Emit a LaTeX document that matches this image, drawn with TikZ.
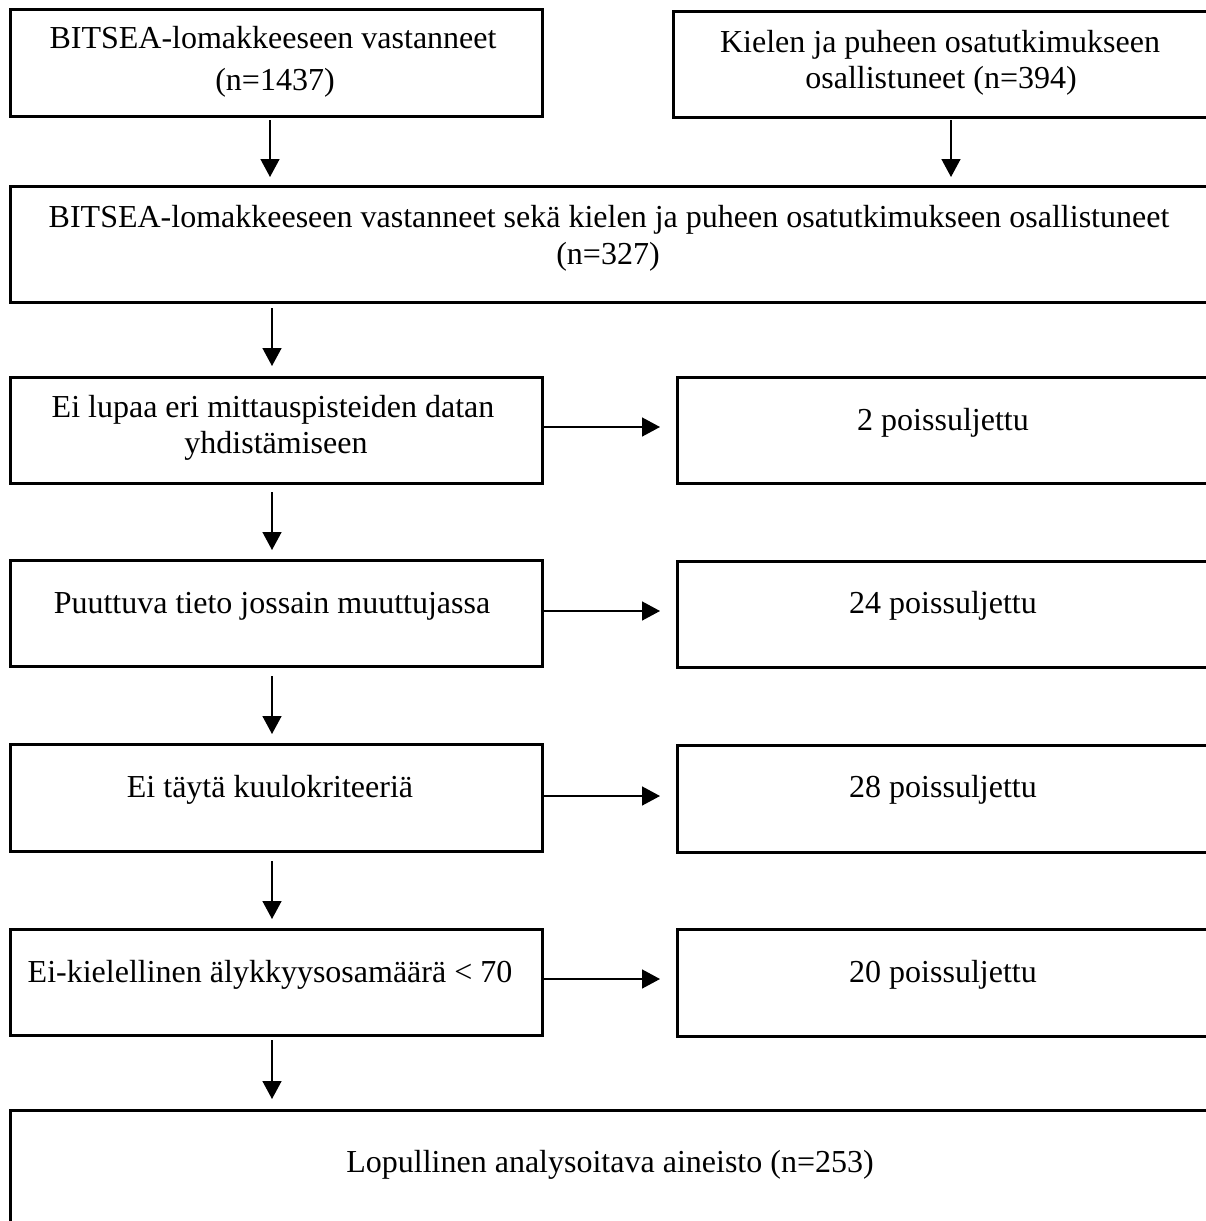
\documentclass[tikz,border=0pt]{standalone}
\usepackage{fontspec}
\setmainfont{Liberation Serif}
\usetikzlibrary{arrows.meta}
\tikzset{
  box/.style={draw, line width=3pt, inner sep=0pt, outer sep=0pt, rectangle},
  txt/.style={anchor=base, inner sep=0pt, font=\fontsize{32}{38}\selectfont},
  arr/.style={line width=1.5pt, -{Triangle[width=19pt,length=18pt]}}
}
\begin{document}
\begin{tikzpicture}[x=1pt,y=-1pt]
\useasboundingbox (0,0) rectangle (1206,1221);
\clip (0,0) rectangle (1206,1221);
\fill[white] (0,0) rectangle (1206,1221);
% boxes
\node[box, minimum width=532pt, minimum height=107pt] (A) at (276,62.5) {};
\node[box, minimum width=539pt, minimum height=106pt] (B) at (942.5,64) {};
\node[box, minimum width=1202pt, minimum height=116pt] (C) at (611,244) {};
\node[box, minimum width=532pt, minimum height=106pt] (D) at (276,430) {};
\node[box, minimum width=535pt, minimum height=106pt] (E) at (944.5,430) {};
\node[box, minimum width=532pt, minimum height=106pt] (F) at (276,613) {};
\node[box, minimum width=535pt, minimum height=106pt] (G) at (944.5,614) {};
\node[box, minimum width=532pt, minimum height=107pt] (H) at (276,797.5) {};
\node[box, minimum width=535pt, minimum height=107pt] (I) at (944.5,798.5) {};
\node[box, minimum width=532pt, minimum height=106pt] (J) at (276,982) {};
\node[box, minimum width=535pt, minimum height=107pt] (K) at (944.5,982.5) {};
\node[box, minimum width=1202pt, minimum height=130pt] (L) at (611,1175) {};
% texts
\node[txt] (A1) at (273,48) {BITSEA-lomakkeeseen vastanneet};
\node[txt] (A2) at (275,90) {(n=1437)};
\node[txt] (B1) at (940,52) {Kielen ja puheen osatutkimukseen};
\node[txt] (B2) at (941,88) {osallistuneet (n=394)};
\node[txt] (C1) at (609,227) {BITSEA-lomakkeeseen vastanneet sekä kielen ja puheen osatutkimukseen osallistuneet};
\node[txt] (C2) at (608,264) {(n=327)};
\node[txt] (D1) at (273,417) {Ei lupaa eri mittauspisteiden datan};
\node[txt] (D2) at (276,453) {yhdistämiseen};
\node[txt] (E1) at (943,430) {2 poissuljettu};
\node[txt] (F1) at (272,613) {Puuttuva tieto jossain muuttujassa};
\node[txt] (G1) at (943,613) {24 poissuljettu};
\node[txt] (H1) at (270,797) {Ei täytä kuulokriteeriä};
\node[txt] (I1) at (943,797) {28 poissuljettu};
\node[txt] (J1) at (270,982) {Ei-kielellinen älykkyysosamäärä < 70};
\node[txt] (K1) at (943,982) {20 poissuljettu};
\node[txt] (L1) at (610,1172) {Lopullinen analysoitava aineisto (n=253)};
% connector x positions
\coordinate (xa) at (270,0);
\coordinate (xb) at (951,0);
\coordinate (xc) at (272,0);
% vertical arrows
\draw[arr, shorten <=4pt, shorten >=9pt] (xa |- A.south) -- (xa |- C.north);
\draw[arr, shorten <=3pt, shorten >=9pt] (xb |- B.south) -- (xb |- C.north);
\draw[arr, shorten <=6pt, shorten >=11pt] (xc |- C.south) -- (xc |- D.north);
\draw[arr, shorten <=9pt, shorten >=10pt] (xc |- D.south) -- (xc |- F.north);
\draw[arr, shorten <=10pt, shorten >=10pt] (xc |- F.south) -- (xc |- H.north);
\draw[arr, shorten <=10pt, shorten >=10pt] (xc |- H.south) -- (xc |- J.north);
\draw[arr, shorten <=5pt, shorten >=11pt] (xc |- J.south) -- (xc |- L.north);
% horizontal arrows
\draw[arr, shorten >=17pt] ([yshift=3pt]D.east) -- ([yshift=3pt]D.east -| E.west);
\draw[arr, shorten >=17pt] ([yshift=2pt]F.east) -- ([yshift=2pt]F.east -| G.west);
\draw[arr, shorten >=17pt] ([yshift=1.5pt]H.east) -- ([yshift=1.5pt]H.east -| I.west);
\draw[arr, shorten >=17pt] ([yshift=3pt]J.east) -- ([yshift=3pt]J.east -| K.west);
\end{tikzpicture}
\end{document}
